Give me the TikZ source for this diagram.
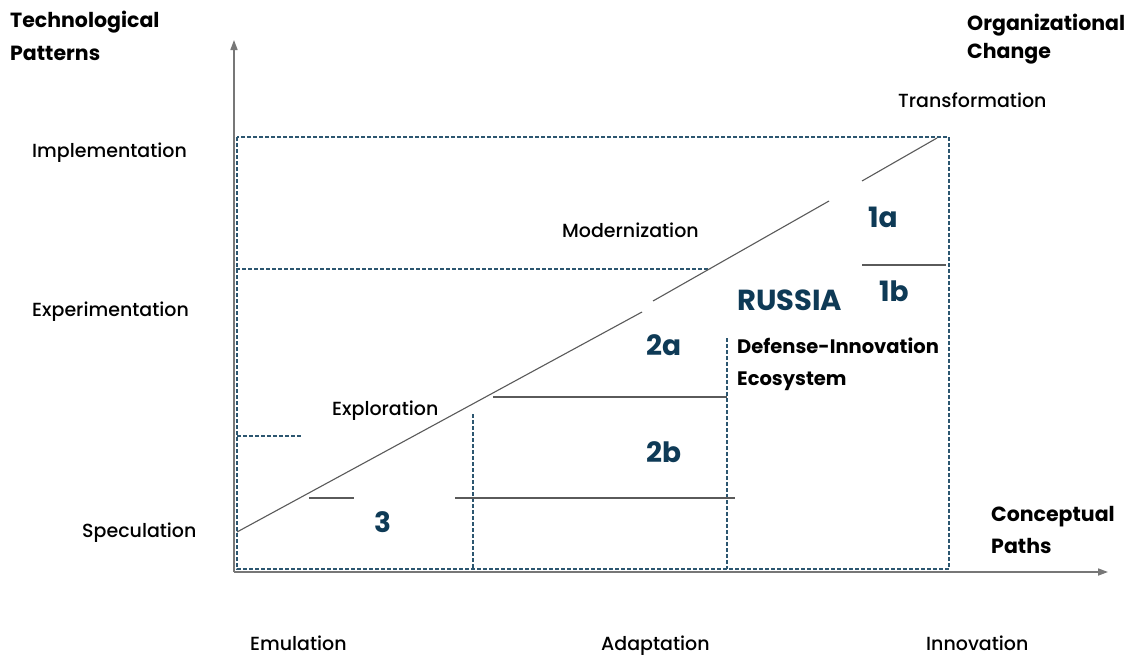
\documentclass[tikz,border=0pt]{standalone}
\usepackage{fontspec}
\setmainfont{Poppins}[UprightFont={* Medium},BoldFont={* Bold}]
\usetikzlibrary{arrows.meta}
\definecolor{navy}{HTML}{0E3A56}
\definecolor{dashc}{HTML}{2C5670}
\definecolor{axisc}{HTML}{777777}
\definecolor{linec}{HTML}{5A5A5A}
\tikzset{
  axisline/.style={draw=axisc,line width=1.6pt,-{Triangle[length=10pt,width=7pt]}},
  dashline/.style={draw=dashc,line width=1.1pt,dash pattern=on 4pt off 2pt},
  solidline/.style={draw=linec,line width=1.1pt},
  lbl/.style={inner sep=0pt,anchor=base west,font=\fontsize{19}{20}\selectfont},
  hdr/.style={inner sep=0pt,anchor=base west,font=\fontsize{20.5}{25}\selectfont\bfseries},
  num/.style={inner sep=0pt,anchor=base west,text=navy,font=\fontsize{28}{30}\selectfont\bfseries},
}
\begin{document}
\begin{tikzpicture}[x=1pt,y=-1pt]
\useasboundingbox[fill=white] (0,0) rectangle (1142,656);
% axes
\coordinate (O) at (234,572);
\coordinate (ytip) at (234,40);
\coordinate (xtip) at (1108,572);
\draw[axisline] (O) -- (ytip);
\draw[axisline] (O) -- (xtip);
% outer dashed frame
\coordinate (f1) at (237,137);
\coordinate (f2) at (949,569);
\draw[dashline] (f1) rectangle (f2);
% dashed inner lines
\coordinate (d1a) at (236,269); \coordinate (d1b) at (710,269);
\draw[dashline] (d1a) -- (d1b);
\coordinate (d2a) at (237,436); \coordinate (d2b) at (301,436);
\draw[dashline] (d2a) -- (d2b);
\coordinate (d3a) at (473,414); \coordinate (d3b) at (473,569);
\draw[dashline] (d3a) -- (d3b);
\coordinate (d4a) at (727,338); \coordinate (d4b) at (727,569);
\draw[dashline] (d4a) -- (d4b);
% solid lines
\coordinate (s1a) at (493,397); \coordinate (s1b) at (727,397);
\draw[solidline] (s1a) -- (s1b);
\coordinate (s2a) at (309,498); \coordinate (s2b) at (354,498);
\draw[solidline] (s2a) -- (s2b);
\coordinate (s3a) at (455,498); \coordinate (s3b) at (735,498);
\draw[solidline] (s3a) -- (s3b);
\coordinate (s4a) at (862,265); \coordinate (s4b) at (946,265);
\draw[solidline] (s4a) -- (s4b);
% diagonal
\coordinate (g1a) at (237,532); \coordinate (g1b) at (642,312);
\coordinate (g2a) at (653,301); \coordinate (g2b) at (829,201);
\coordinate (g3a) at (862,181); \coordinate (g3b) at (937,138);
\draw[solidline] (g1a) -- (g1b);
\draw[solidline] (g2a) -- (g2b);
\draw[solidline] (g3a) -- (g3b);
% headers
\node[hdr] (tp1) at (10,27) {Technological};
\node[hdr] (tp2) at (10,60) {Patterns};
\node[hdr] (oc1) at (967,30) {Organizational};
\node[hdr] (oc2) at (967,58) {Change};
\node[hdr] (cp1) at (991,521) {Conceptual};
\node[hdr] (cp2) at (991,553) {Paths};
% axis labels
\node[lbl] (impl) at (32,157) {Implementation};
\node[lbl] (expm) at (32,316) {Experimentation};
\node[lbl] (spec) at (82,537) {Speculation};
\node[lbl] (emu) at (250,650) {Emulation};
\node[lbl] (adap) at (601,650) {Adaptation};
\node[lbl] (innov) at (926,650) {Innovation};
\node[lbl] (trans) at (898,107) {Transformation};
\node[lbl] (mod) at (562,237) {Modernization};
\node[lbl] (expl) at (332,415) {Exploration};
% numbers
\node[num] (n1a) at (868,227) {1a};
\node[num] (n1b) at (879,301) {1b};
\node[num] (n2a) at (646,355) {2a};
\node[num] (n2b) at (646,462) {2b};
\node[num] (n3) at (374,532) {3};
\node[num,font=\fontsize{29}{32}\selectfont\bfseries] (ru) at (737,310) {RUSSIA};
\node[hdr,font=\fontsize{19.5}{24}\selectfont\bfseries] (die1) at (737,353) {Defense-Innovation};
\node[hdr,font=\fontsize{19.5}{24}\selectfont\bfseries] (die2) at (737,385) {Ecosystem};
\end{tikzpicture}
\end{document}
